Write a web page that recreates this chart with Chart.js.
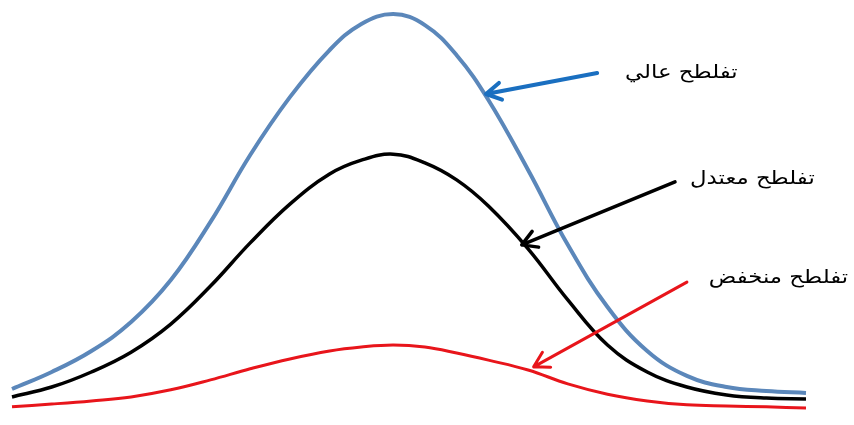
<!DOCTYPE html>
<html lang="ar">
<head>
<meta charset="utf-8">
<title>التفلطح</title>
<script src="https://cdn.jsdelivr.net/npm/chart.js@4.4.1/dist/chart.umd.min.js"></script>
<style>
  html, body { margin: 0; padding: 0; background: #ffffff; }
  #wrap { position: relative; width: 854px; height: 425px; }
</style>
</head>
<body>
<div id="wrap"><canvas id="c"></canvas></div>
<script>
// Shared horizontal positions of the sampled points
const xValues = [0, 5, 10, 15, 20, 25, 30, 35, 40, 44, 48, 52, 56, 60, 65, 70, 75, 80, 85, 90, 95, 100];

// Heights of the three distributions at those positions
const highKurtosis = [5.3, 9.6, 14.9, 22.2, 32.8, 47.5, 64.4, 79.0, 90.9, 97.5, 100, 97.2, 89.6, 78.3, 60.6, 41.7, 26.0, 14.9, 8.6, 5.8, 4.8, 4.3];
const normalKurtosis = [3.3, 5.8, 9.6, 14.6, 21.7, 31.3, 42.2, 52.0, 59.6, 63.1, 64.6, 62.4, 58.1, 51.5, 40.7, 27.8, 16.4, 9.6, 5.8, 3.8, 3.0, 2.8];
const lowKurtosis = [0.8, 1.5, 2.3, 3.3, 5.1, 7.6, 10.4, 12.9, 14.9, 15.9, 16.4, 15.9, 14.4, 12.6, 10.1, 6.6, 4.0, 2.3, 1.3, 1.0, 0.8, 0.5];

// Series names
const seriesLabels = ['تفلطح عالي', 'تفلطح معتدل', 'تفلطح منخفض'];

const toPoints = ys => xValues.map((x, i) => ({ x: x, y: ys[i] }));

// Labelled arrows pointing at each curve (in data units)
const callouts = [
  { text: seriesLabels[0], color: '#1a6fc0', width: 4,   from: [73.7, 85.1], to: [59.7, 79.8], textAt: [91.4, 85.1] },
  { text: seriesLabels[1], color: '#000000', width: 3.5, from: [83.5, 57.6], to: [64.2, 41.7], textAt: [101.1, 58.3] },
  { text: seriesLabels[2], color: '#e8151b', width: 3,   from: [85.0, 32.3], to: [65.7, 10.9], textAt: [105.3, 33.3] }
];

const calloutPlugin = {
  id: 'callouts',
  afterDatasetsDraw(chart) {
    const ctx = chart.ctx;
    const xs = chart.scales.x, ys = chart.scales.y;
    callouts.forEach(c => {
      const x1 = xs.getPixelForValue(c.from[0]), y1 = ys.getPixelForValue(c.from[1]);
      const x2 = xs.getPixelForValue(c.to[0]), y2 = ys.getPixelForValue(c.to[1]);
      const ang = Math.atan2(y2 - y1, x2 - x1);
      const head = 17, spread = Math.PI / 6;
      ctx.save();
      ctx.strokeStyle = c.color;
      ctx.lineWidth = c.width;
      ctx.lineCap = 'round';
      ctx.lineJoin = 'round';
      ctx.beginPath();
      ctx.moveTo(x1, y1);
      ctx.lineTo(x2, y2);
      ctx.moveTo(x2 - head * Math.cos(ang - spread), y2 - head * Math.sin(ang - spread));
      ctx.lineTo(x2, y2);
      ctx.lineTo(x2 - head * Math.cos(ang + spread), y2 - head * Math.sin(ang + spread));
      ctx.stroke();

      // Label, right-aligned and slightly widened
      const tx = xs.getPixelForValue(c.textAt[0]), ty = ys.getPixelForValue(c.textAt[1]);
      ctx.translate(tx, ty);
      ctx.scale(1.2, 1);
      ctx.fillStyle = '#000000';
      ctx.font = '19px "DejaVu Sans", sans-serif';
      ctx.direction = 'rtl';
      ctx.textAlign = 'right';
      ctx.textBaseline = 'middle';
      ctx.fillText(c.text, 0, 0);
      ctx.restore();
    });
  }
};

new Chart(document.getElementById('c'), {
  type: 'line',
  data: {
    datasets: [
      { label: seriesLabels[0], data: toPoints(highKurtosis), borderColor: '#5b87ba', borderWidth: 4 },
      { label: seriesLabels[1], data: toPoints(normalKurtosis), borderColor: '#000000', borderWidth: 3.5 },
      { label: seriesLabels[2], data: toPoints(lowKurtosis), borderColor: '#e8151b', borderWidth: 3 }
    ]
  },
  options: {
    responsive: true,
    maintainAspectRatio: false,
    animation: false,
    layout: { padding: { left: 12, right: 48, top: 14, bottom: 15 } },
    elements: {
      point: { radius: 0, hoverRadius: 0 },
      line: { tension: 0.4, fill: false }
    },
    datasets: { line: { clip: false } },
    scales: {
      x: { type: 'linear', min: 0, max: 100, display: false },
      y: { type: 'linear', min: 0, max: 100, display: false }
    },
    plugins: {
      legend: { display: false },
      tooltip: { enabled: false }
    }
  },
  plugins: [calloutPlugin]
});
</script>
</body>
</html>
